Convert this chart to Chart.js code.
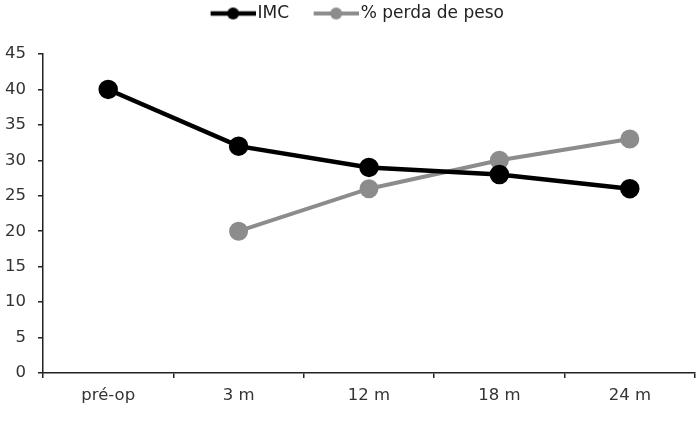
<!DOCTYPE html>
<html>
<head>
<meta charset="utf-8">
<script src="https://cdn.jsdelivr.net/npm/chart.js@4/dist/chart.umd.min.js"></script>
<style>
  html, body { margin: 0; padding: 0; background: #fff; }
  #wrap { width: 696px; height: 424px; }
</style>
</head>
<body>
<div id="wrap"><canvas id="chart"></canvas></div>
<script>
const categories = ['pré-op', '3 m', '12 m', '18 m', '24 m'];
const imcValues = [40, 32, 29, 28, 26];
const perdaValues = [null, 20, 26, 30, 33];
const seriesNames = ['IMC', '% perda de peso'];

const FONT = '"DejaVu Sans", sans-serif';
const BLACK = '#000000';
const GRAY = '#8c8c8c';

// legend sample: line with a marker, drawn in the right part of the image
// so the empty left part works as the gap between legend items
const SAMPLE_W = 71;
const LINE_W = 45;
function legendSample(color, lineWidth) {
    const c = document.createElement('canvas');
    c.width = SAMPLE_W;
    c.height = 16;
    const ctx = c.getContext('2d');
    const x0 = SAMPLE_W - LINE_W;
    ctx.strokeStyle = color;
    ctx.lineWidth = lineWidth;
    ctx.beginPath();
    ctx.moveTo(x0, 8);
    ctx.lineTo(SAMPLE_W, 8);
    ctx.stroke();
    ctx.fillStyle = color;
    ctx.beginPath();
    ctx.arc(x0 + LINE_W / 2, 8, 6, 0, Math.PI * 2);
    ctx.fill();
    return c;
}

const samples = [legendSample(BLACK, 4.5), legendSample(GRAY, 4)];

// extra room between legend and plot
const legendGap = {
    id: 'legendGap',
    beforeInit(chart) {
        const fit = chart.legend.fit;
        chart.legend.fit = function () {
            fit.call(this);
            this.height += 22;
        };
    }
};

new Chart(document.getElementById('chart'), {
    type: 'line',
    data: {
        labels: categories,
        datasets: [
            {
                label: seriesNames[0],
                data: imcValues,
                borderColor: BLACK,
                backgroundColor: BLACK,
                borderWidth: 4.5,
                pointRadius: 7.5,
                pointHoverRadius: 7.5,
                tension: 0
            },
            {
                label: seriesNames[1],
                data: perdaValues,
                borderColor: GRAY,
                backgroundColor: GRAY,
                borderWidth: 4,
                pointRadius: 7.5,
                pointHoverRadius: 7.5,
                tension: 0
            }
        ]
    },
    plugins: [legendGap],
    options: {
        responsive: true,
        maintainAspectRatio: false,
        animation: false,
        layout: { autoPadding: false, padding: { top: 0, right: 1, left: 0, bottom: 0 } },
        plugins: {
            tooltip: { enabled: false },
            legend: {
                position: 'top',
                labels: {
                    usePointStyle: true,
                    pointStyleWidth: SAMPLE_W - 13,
                    padding: 5,
                    color: '#222',
                    font: { family: FONT, size: 17 },
                    generateLabels: (chart) => chart.data.datasets.map((ds, i) => ({
                        text: ds.label,
                        pointStyle: samples[i],
                        fillStyle: ds.borderColor,
                        strokeStyle: ds.borderColor,
                        lineWidth: 0,
                        fontColor: '#222',
                        datasetIndex: i,
                        hidden: false
                    }))
                }
            }
        },
        scales: {
            x: {
                offset: true,
                grid: {
                    offset: true,
                    drawOnChartArea: false,
                    drawTicks: true,
                    tickLength: 5,
                    color: '#222',
                    lineWidth: 1.5
                },
                border: { color: '#222', width: 1.5 },
                ticks: {
                    color: '#333',
                    padding: 8,
                    font: { family: FONT, size: 16.5 }
                },
                afterFit: (scale) => { scale.height = 51; }
            },
            y: {
                min: 0,
                max: 45,
                grid: {
                    drawOnChartArea: false,
                    drawTicks: true,
                    tickLength: 5,
                    color: '#222',
                    lineWidth: 1.5
                },
                border: { color: '#222', width: 1.5 },
                ticks: {
                    stepSize: 5,
                    color: '#333',
                    padding: 12,
                    font: { family: FONT, size: 16.5 }
                },
                afterFit: (scale) => { scale.width = 43; }
            }
        }
    }
});
</script>
</body>
</html>
